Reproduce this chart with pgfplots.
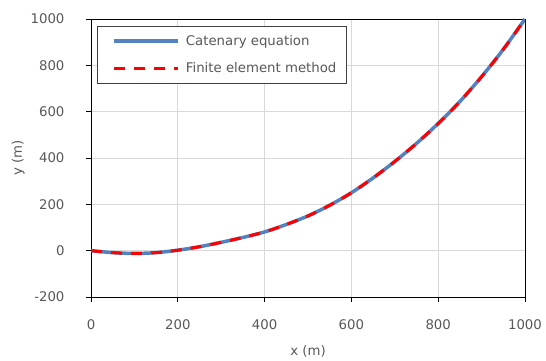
\documentclass[border=0pt]{standalone}
\usepackage{fontspec}
\setmainfont{DejaVu Sans}
\usepackage{pgfplots}
\pgfplotsset{compat=1.18}
\definecolor{txt}{RGB}{89,89,89}
\definecolor{gridc}{RGB}{217,217,217}
\definecolor{catblue}{RGB}{84,130,190}
\definecolor{legdraw}{RGB}{64,64,64}
\newcommand\f{\fontsize{13.3}{16}\selectfont}
\pgfplotstableread{
x y
0 0
50 -8.5
100 -12
150 -8.5
200 2
250 17
300 36
350 57
400 81
450 113
500 150
550 196
600 250
650 314
700 385
750 463
800 549
850 644
900 751
950 869
1000 1000
}\datatab
\begin{document}
\begin{tikzpicture}[x=1pt,y=1pt]
\useasboundingbox (0,0) rectangle (546,361);
\begin{axis}[
  at={(91pt,64pt)}, anchor=south west,
  scale only axis, width=434pt, height=278pt,
  xmin=0, xmax=1000, ymin=-200, ymax=1000,
  xtick={0,200,...,1000}, ytick={-200,0,...,1000},
  grid=major, major grid style={gridc, line width=0.8pt},
  axis line style={black, line width=0.8pt},
  tick style={black, line width=0.8pt},
  tick align=outside, xtick pos=left, ytick pos=left,
  major tick length=5pt,
  tick label style={font=\f, text=txt},
  /pgf/number format/assume math mode=true,
  /pgf/number format/1000 sep={},
  yticklabel style={xshift=-18pt},
  xticklabel style={yshift=-14pt},
  label style={font=\f, text=txt},
  xlabel={x (m)}, ylabel={y (m)},
  xlabel style={at={(axis description cs:0.5,-0.195)}, anchor=center},
  ylabel style={at={(axis description cs:-0.168,0.5)}, anchor=center},
  legend style={at={(axis description cs:0.0138,0.976)}, anchor=north west,
    draw=legdraw, line width=0.8pt, fill=white, font=\f, text=txt,
    inner xsep=8pt, inner ysep=7pt, row sep=12pt, column sep=4pt, cells={anchor=west}},
  legend image code/.code={\path (0pt,0pt); \draw[#1] (7pt,0pt) -- (71pt,0pt);},
]
\addplot[catblue, line width=3.5pt, smooth] table {\datatab};
\addlegendentry{Catenary equation}
\addplot[red, line width=3pt, dash pattern=on 11pt off 9pt, smooth] table {\datatab};
\addlegendentry{Finite element method}
\end{axis}
\end{tikzpicture}
\end{document}
